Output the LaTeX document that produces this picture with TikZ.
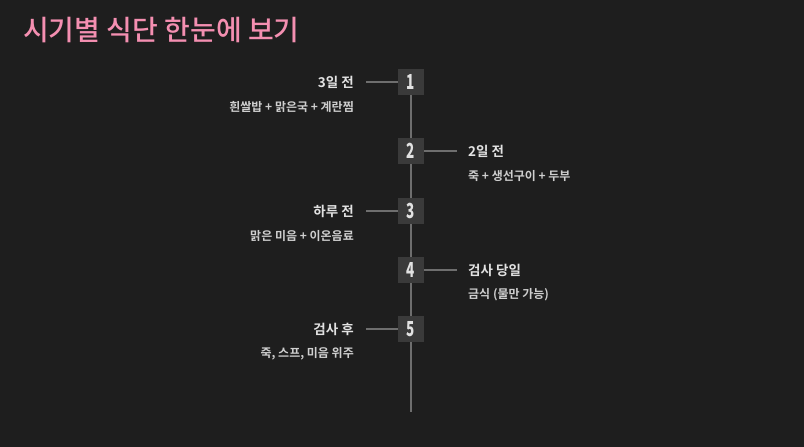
\documentclass[tikz,border=0pt]{standalone}
\usepackage{fontspec}
\usepackage{graphicx}
\setmainfont{Noto Sans CJK KR}
\newfontfamily\krbold{Noto Sans CJK KR Bold}
\newfontfamily\krmed{Noto Sans CJK KR Medium}
\newfontfamily\krblack{Noto Sans CJK KR Black}
\newcommand{\numtxt}[1]{\scalebox{0.75}[1.15]{#1}}
\definecolor{bgc}{HTML}{1E1E1E}
\definecolor{titlec}{HTML}{F48FB1}
\definecolor{boxc}{HTML}{3A3A3A}
\definecolor{linec}{HTML}{6E6E6E}
\definecolor{txtc}{HTML}{E2E2E2}
\definecolor{subc}{HTML}{CFCFCF}
\begin{document}
\begin{tikzpicture}[x=1pt,y=-1pt,
  numbox/.style={fill=boxc,minimum width=26pt,minimum height=26pt,inner sep=0pt,text=txtc,font=\krblack\fontsize{18}{18}\selectfont},
  lefttitle/.style={anchor=east,text=txtc,inner sep=0pt,font=\krbold\fontsize{13.5}{14}\selectfont},
  righttitle/.style={anchor=west,text=txtc,inner sep=0pt,font=\krbold\fontsize{13.5}{14}\selectfont},
  leftsub/.style={anchor=east,text=subc,inner sep=0pt,font=\krbold\fontsize{12}{13}\selectfont},
  rightsub/.style={anchor=west,text=subc,inner sep=0pt,font=\krbold\fontsize{12}{13}\selectfont},
  conn/.style={draw=linec,line width=1.5pt},
  spine/.style={draw=linec,line width=2pt}]
\fill[bgc] (0,0) rectangle (804,447);
\useasboundingbox (0,0) rectangle (804,447);
\node[anchor=west,text=titlec,inner sep=0pt,font=\krmed\fontsize{28}{30}\selectfont] (title) at (23,30) {시기별 식단 한눈에 보기};
\coordinate (spineend) at (411,412);
\coordinate (spinestart) at (411,82);
\draw[spine] (spinestart) -- (spineend);
% nodes
\node[numbox] (b1) at (411,82) {\numtxt{1}};
\node[numbox] (b2) at (411,151) {\numtxt{2}};
\node[numbox] (b3) at (411,211) {\numtxt{3}};
\node[numbox] (b4) at (411,270) {\numtxt{4}};
\node[numbox] (b5) at (411,329) {\numtxt{5}};
% connector ends
\coordinate (c1) at (366,82);
\coordinate (c2) at (457,151);
\coordinate (c3) at (366,211);
\coordinate (c4) at (457,270);
\coordinate (c5) at (366,329);
\draw[conn] (b1.west) -- (c1);
\draw[conn] (b2.east) -- (c2);
\draw[conn] (b3.west) -- (c3);
\draw[conn] (b4.east) -- (c4);
\draw[conn] (b5.west) -- (c5);
% labels
\node[lefttitle] (t1) at (354,82) {3일 전};
\node[leftsub] (s1) at (354,107) {흰쌀밥 + 맑은국 + 계란찜};
\node[righttitle] (t2) at (468,151) {2일 전};
\node[rightsub] (s2) at (468,176) {죽 + 생선구이 + 두부};
\node[lefttitle] (t3) at (354,211) {하루 전};
\node[leftsub] (s3) at (354,236) {맑은 미음 + 이온음료};
\node[righttitle] (t4) at (468,270) {검사 당일};
\node[rightsub] (s4) at (468,295) {금식 (물만 가능)};
\node[lefttitle] (t5) at (354,329) {검사 후};
\node[leftsub] (s5) at (354,354) {죽, 스프, 미음 위주};
\end{tikzpicture}
\end{document}
